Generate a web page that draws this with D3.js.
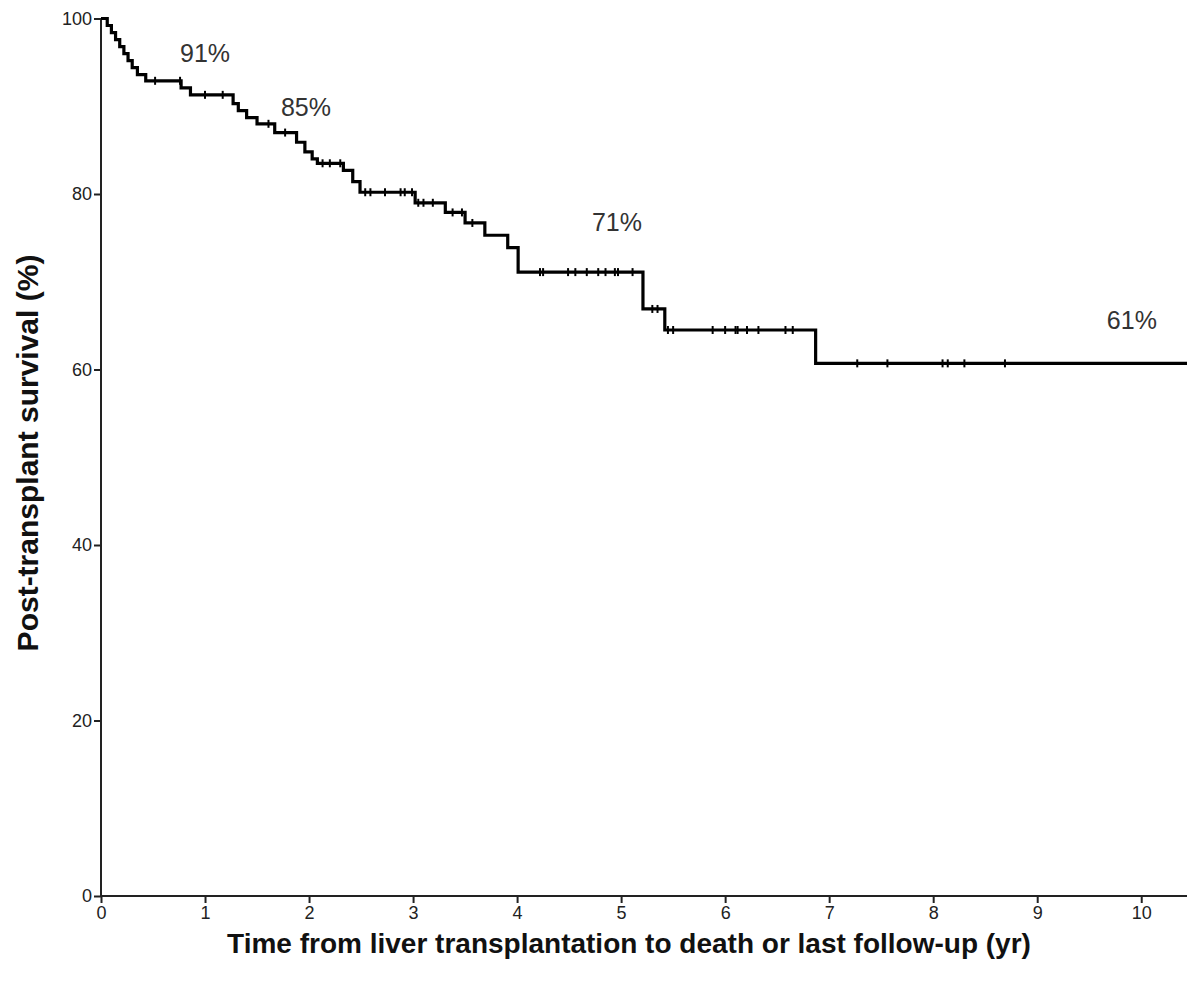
<!DOCTYPE html>
<html>
<head>
<meta charset="utf-8">
<script src="https://cdn.jsdelivr.net/npm/d3@7"></script>
<style>
  body { margin: 0; background: #fff; }
  svg { display: block; font-family: "Liberation Sans", Arial, sans-serif; }
  .axis path, .axis line { stroke: #222; stroke-width: 2; }
  .axis text { font-size: 18px; fill: #222; }
  .title { font-weight: bold; fill: #111; }
  .pct { font-size: 25px; fill: #333; }
</style>
</head>
<body>
<svg width="1195" height="994"></svg>
<script>
// Kaplan-Meier steps: time (yr) and survival (%) after each drop
const stepTime = [0, 0.06, 0.10, 0.14, 0.18, 0.22, 0.26, 0.30, 0.35, 0.43, 0.77, 0.86,
  1.27, 1.32, 1.40, 1.50, 1.67, 1.88, 1.96, 2.03, 2.08, 2.33, 2.42, 2.49,
  3.02, 3.31, 3.50, 3.69, 3.91, 4.01, 5.21, 5.42, 6.87];
const stepSurv = [100, 99.2, 98.4, 97.6, 96.8, 96.0, 95.2, 94.4, 93.6, 92.9, 92.1, 91.3,
  90.3, 89.5, 88.7, 88.0, 87.0, 85.9, 84.8, 84.0, 83.5, 82.7, 81.4, 80.2,
  79.0, 77.9, 76.7, 75.3, 73.9, 71.1, 66.9, 64.5, 60.7];
const endTime = 10.44;

// censored observations (yr)
const censorTime = [0.52, 0.76, 1.00, 1.17, 1.61, 1.77, 2.13, 2.20, 2.30,
  2.54, 2.59, 2.73, 2.88, 2.92, 2.99, 3.05, 3.10, 3.19, 3.38, 3.47, 3.57,
  4.22, 4.25, 4.49, 4.56, 4.67, 4.78, 4.85, 4.94, 4.97, 5.11, 5.30, 5.35,
  5.45, 5.50, 5.88, 6.00, 6.10, 6.12, 6.21, 6.32, 6.58, 6.65,
  7.27, 7.56, 8.09, 8.14, 8.30, 8.69];

const labelText = ["91%", "85%", "71%", "61%"];
const labelTime = [1.0, 1.97, 4.96, 9.91];
const labelSurv = [96.1, 89.9, 76.8, 65.6];

const xTicks = [0, 1, 2, 3, 4, 5, 6, 7, 8, 9, 10];
const yTicks = [0, 20, 40, 60, 80, 100];

const svg = d3.select("svg");

const x = d3.scaleLinear().domain([0, endTime]).range([101, 1187]);
const y = d3.scaleLinear().domain([0, 100]).range([896, 18.5]);

svg.append("g")
  .attr("class", "axis")
  .attr("transform", "translate(0,896)")
  .call(d3.axisBottom(x).tickValues(xTicks).tickSize(7).tickPadding(3).tickFormat(d3.format("d")))
  .call(g => g.select(".domain").attr("d", "M101,0H1187"));

svg.append("g")
  .attr("class", "axis")
  .attr("transform", "translate(101,0)")
  .call(d3.axisLeft(y).tickValues(yTicks).tickSize(7).tickPadding(2).tickFormat(d3.format("d")))
  .call(g => g.select(".domain").attr("d", "M0,896V18.5"));

// survival value at a given time
function survAt(t) {
  const i = d3.bisectRight(stepTime, t) - 1;
  return stepSurv[Math.max(0, i)];
}

const pts = stepTime.map((t, i) => [t, stepSurv[i]]);
pts.push([endTime, stepSurv[stepSurv.length - 1]]);

const line = d3.line()
  .x(d => x(d[0]))
  .y(d => y(d[1]))
  .curve(d3.curveStepAfter);

svg.append("path")
  .datum(pts)
  .attr("fill", "none")
  .attr("stroke", "#000")
  .attr("stroke-width", 3.2)
  .attr("d", line);

svg.selectAll(".censor")
  .data(censorTime)
  .enter()
  .append("line")
  .attr("class", "censor")
  .attr("x1", d => x(d))
  .attr("x2", d => x(d))
  .attr("y1", d => y(survAt(d)) - 4)
  .attr("y2", d => y(survAt(d)) + 4)
  .attr("stroke", "#000")
  .attr("stroke-width", 2);

svg.selectAll(".pct")
  .data(labelText)
  .enter()
  .append("text")
  .attr("class", "pct")
  .attr("x", (d, i) => x(labelTime[i]))
  .attr("y", (d, i) => y(labelSurv[i]))
  .attr("text-anchor", "middle")
  .attr("dominant-baseline", "central")
  .text(d => d);

svg.append("text")
  .attr("class", "title")
  .attr("x", 629)
  .attr("y", 953)
  .attr("text-anchor", "middle")
  .style("font-size", "28px")
  .text("Time from liver transplantation to death or last follow-up (yr)");

svg.append("text")
  .attr("class", "title")
  .attr("transform", "translate(38,453) rotate(-90)")
  .attr("text-anchor", "middle")
  .style("font-size", "30px")
  .text("Post-transplant survival (%)");
</script>
</body>
</html>
